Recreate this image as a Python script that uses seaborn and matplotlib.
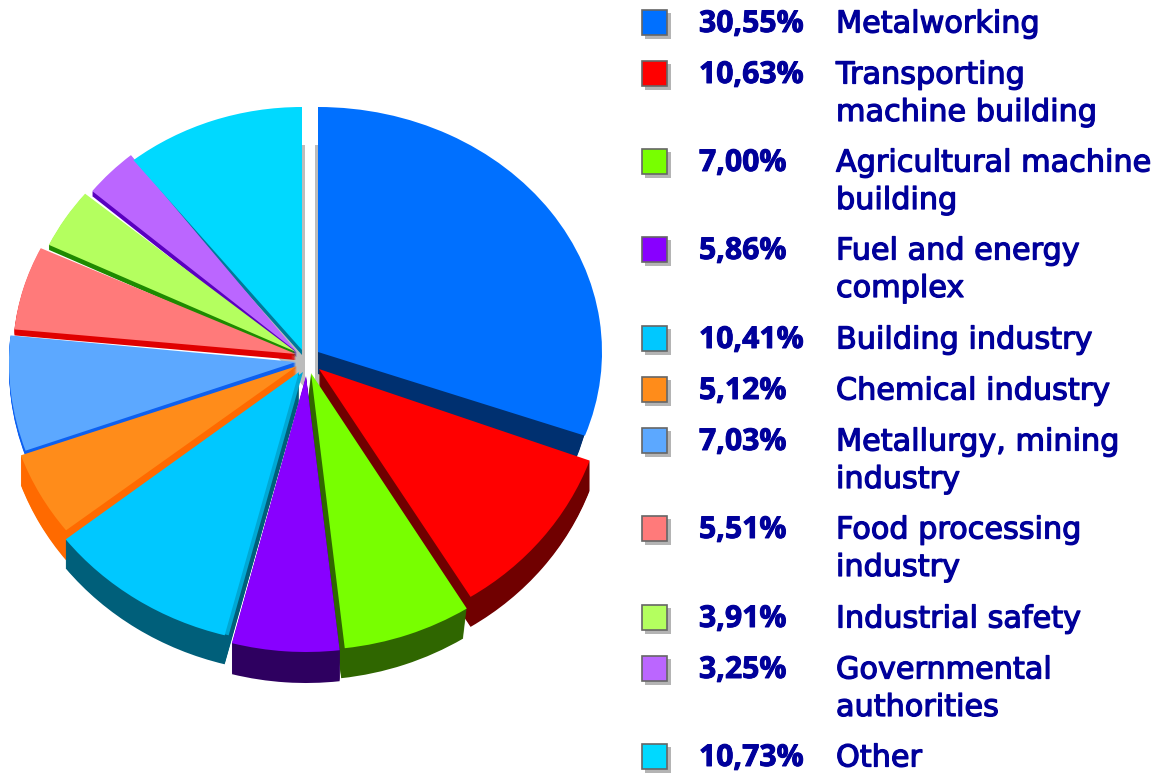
import matplotlib
matplotlib.use("Agg")
import matplotlib.pyplot as plt
import matplotlib.patheffects as pe
from matplotlib.patches import Rectangle
from matplotlib.transforms import Affine2D
import seaborn as sns

labels = ["Metalworking", "Transporting\nmachine building", "Agricultural machine\nbuilding",
          "Fuel and energy\ncomplex", "Building industry", "Chemical industry",
          "Metallurgy, mining\nindustry", "Food processing\nindustry", "Industrial safety",
          "Governmental\nauthorities", "Other"]
shares = [30.55, 10.63, 7.00, 5.86, 10.41, 5.12, 7.03, 5.51, 3.91, 3.25, 10.73]

top_colors = ["#0070ff", "#ff0000", "#78ff00", "#8800ff", "#00c8ff", "#ff8c1a",
              "#5ca8ff", "#ff7a7a", "#b4ff5f", "#bb66ff", "#00d9ff"]
side_colors = ["#003070", "#700000", "#2f6600", "#2e0060", "#005f7a", "#ff6a00",
               "#0d60f0", "#e00000", "#1e8a00", "#5a00c0", "#007a99"]

# layout in pixels: apex x, apex y, radius x, radius y, side depth for each slice
apex_x = [318, 319, 311, 306, 299, 297, 296, 296, 296, 297, 302]
apex_y = [352, 369, 373, 376, 372, 366, 362, 354, 352, 352, 350]
radius_x = [284, 288, 296, 295, 296, 293, 287, 283, 274, 266, 270]
radius_y = [245, 268, 277, 276, 272, 267, 265, 245, 248, 252, 243]
depth = [22, 30, 30, 31, 29, 30, 6, 6, 5, 5, 5]
# sideways lean of the sides per pixel of depth, and how much narrower the side layer is
lean = [0, 0, -0.12, 0, 0, 0, 0, 0, 0, 0, 0]
inset = [9, 0, 0, 0, 0, 0, 0, 0, 0, 0, 0]

row_y = [22, 73, 161, 249, 338, 389, 440, 528, 617, 668, 756]
TEXT = "#00009b"

sns.set_theme(style="white")
plt.rcParams["font.family"] = ["DejaVu Sans"]

fig = plt.figure(figsize=(11.73, 7.74), dpi=100)
ax = fig.add_axes([0, 0, 1, 1])


def draw_pie(colors, shift_x, shift_y, shrink_x):
    # a None colour hides that slice in this layer
    palette = sns.color_palette([c or "#ffffff" for c in colors])
    wedges, _ = ax.pie(shares, colors=palette, startangle=90, counterclock=False,
                       wedgeprops={"linewidth": 0})
    for i, w in enumerate(wedges):
        t = Affine2D().scale(radius_x[i] - shrink_x[i], -radius_y[i]).translate(apex_x[i] + shift_x[i], apex_y[i] + shift_y[i])
        w.set_transform(t + ax.transData)
        w.set_visible(colors[i] is not None)


n = len(shares)

# grey drop shadow inside the gap at the top
shadow = ["#bcbcbc"] + [None] * 9 + ["#bcbcbc"]
draw_pie(shadow, [-3] + [0] * 9 + [3], [38] + [0] * 9 + [38], [30] + [0] * 10)

# sides: the same slices stacked downwards
for d in range(max(depth), 0, -1):
    layer = [side_colors[i] if d <= depth[i] else None for i in range(n)]
    draw_pie(layer, [d * lean[i] for i in range(n)], [d] * n, inset)

# lighter strip between the building slice and the purple one
strip = [None] * 4 + ["#00a8d4"] + [None] * 6
draw_pie(strip, [0] * 4 + [4] + [0] * 6, [0] * n, [0] * n)

draw_pie(top_colors, [0] * n, [0] * n, [0] * n)

ax.set_aspect("auto")
ax.set_xlim(0, 1173)
ax.set_ylim(774, 0)
ax.axis("off")

# legend
semibold = [pe.withStroke(linewidth=0.9, foreground=TEXT)]
heavy = [pe.withStroke(linewidth=0.7, foreground=TEXT)]
for y, share, label, color in zip(row_y, shares, labels, top_colors):
    ax.add_patch(Rectangle((645, y - 9), 26, 26, facecolor="#b4b4b4", edgecolor="none"))
    ax.add_patch(Rectangle((642, y - 12), 25, 25, facecolor=color, edgecolor="#666666", linewidth=1.2))
    ax.text(699, y + 2, f"{share:.2f}".replace(".", ",") + "%", color=TEXT, fontsize=21.7,
            family="Open Sans", fontweight="bold", va="center", ha="left", path_effects=heavy)
    for k, line in enumerate(label.split("\n")):
        ax.text(836, y + 2 + k * 37.5, line, color=TEXT, fontsize=21.8, va="center", ha="left",
                path_effects=semibold)

fig.savefig("out.png", dpi=100)
